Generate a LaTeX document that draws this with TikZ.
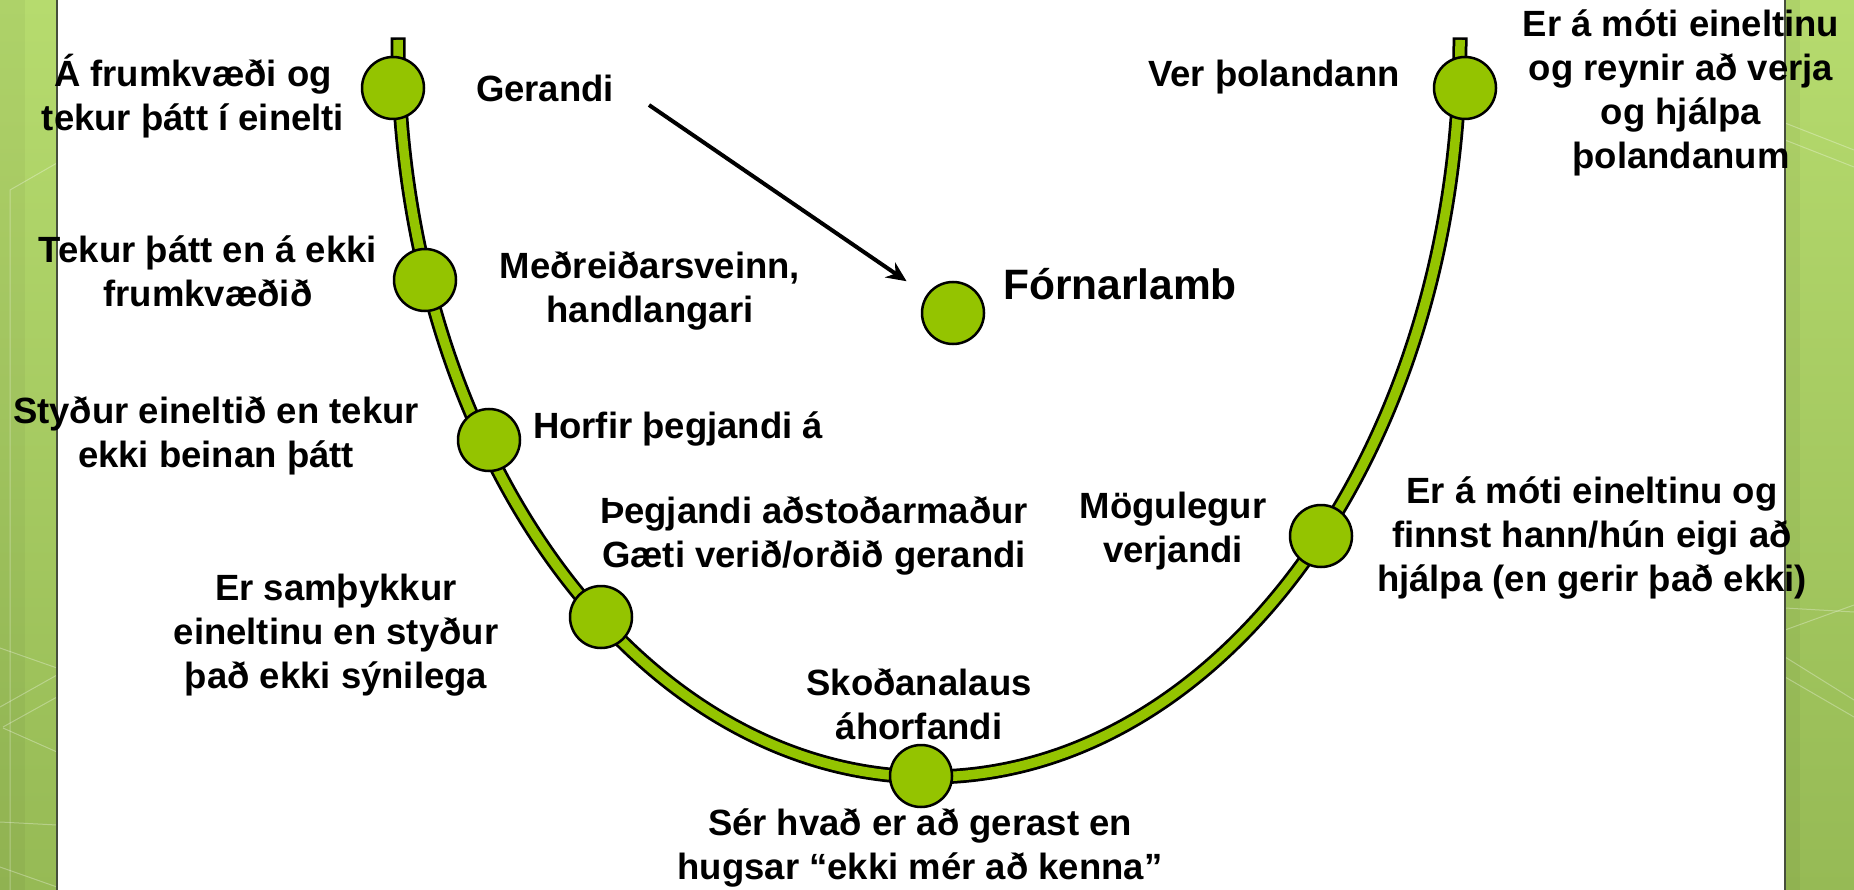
\documentclass[tikz,border=0pt]{standalone}
\usepackage{fontspec}
\setmainfont{Liberation Sans}
\usetikzlibrary{arrows.meta}
\definecolor{pgreen}{RGB}{148,196,0}
\definecolor{bartop}{RGB}{182,219,110}
\definecolor{barbot}{RGB}{150,186,85}
\definecolor{barline}{RGB}{70,78,60}
\begin{document}
\begin{tikzpicture}[x=1pt,y=-1pt,
  lbl/.style={font=\bfseries\fontsize{36.5}{44}\selectfont, align=center, anchor=base, inner sep=0pt},
  biglbl/.style={font=\bfseries\fontsize{42.5}{50}\selectfont, anchor=base, inner sep=0pt},
  dot/.style={circle, draw=black, line width=2.5pt, fill=pgreen, minimum size=62pt, inner sep=0pt},
  bar/.style={top color=bartop, bottom color=barbot},
  barstreak/.style={white, opacity=0.3, line width=1pt},
  curveout/.style={black, line width=15pt},
  curvein/.style={pgreen, line width=9.5pt},
  arr/.style={black, line width=4pt, -{Stealth[length=20pt,width=18pt]}, shorten >=24pt}
  ]
\useasboundingbox (0,0) rectangle (1854,890);
\fill[white] (0,0) rectangle (1854,890);
% side bars
\shade[bar] (0,0) rectangle (57,890);
\fill[black, opacity=0.04] (0,0) rectangle (25,890);
\shade[bar] (1785,0) rectangle (1854,890);
\fill[black, opacity=0.04] (1785,0) rectangle (1800,890);
\draw[barstreak] (10,890) -- (10,190) -- (57,163);
\draw[barstreak] (0,648) -- (57,668);
\draw[barstreak] (0,707) -- (57,675);
\draw[barstreak] (3,727) -- (57,697);
\draw[barstreak] (3,728) -- (57,752);
\draw[barstreak] (0,822) -- (57,825);
\draw[barstreak] (0,867) -- (57,887);
\draw[barstreak] (1785,630) -- (1854,605);
\draw[barstreak] (1785,608) -- (1854,612);
\draw[barstreak] (1785,657) -- (1854,700);
\draw[barstreak] (1785,677) -- (1854,717);
\draw[barstreak] (1785,123) -- (1854,150);
\draw[barstreak] (1785,140) -- (1854,167);
\draw[barline, line width=2pt] (57,0) -- (57,890);
\draw[barline, line width=2pt] (1785,0) -- (1785,890);
% the U curve
\draw[curveout] (398,37.5) -- (398,40) arc[start angle=180, end angle=360, x radius=531pt, y radius=737pt] -- (1460,37.5);
\draw[curvein] (398,40) arc[start angle=180, end angle=360, x radius=531pt, y radius=737pt];
% circles
\node[dot] (c1) at (393,88) {};
\node[dot] (c2) at (425,280) {};
\node[dot] (c3) at (489,440) {};
\node[dot] (c4) at (601,617) {};
\node[dot] (c5) at (921,776) {};
\node[dot] (c6) at (1321,536) {};
\node[dot] (c7) at (1465,88) {};
\node[dot] (vic) at (953,313) {};
% labels (base anchor = baseline of the last line)
\node[lbl] (t1) at (193,131) {Á frumkvæði og\\tekur þátt í einelti};
\node[lbl] (ger) at (545,102) {Gerandi};
\node[lbl] (t3) at (208,307) {Tekur þátt en á ekki\\frumkvæðið};
\node[lbl] (med) at (650,323) {Meðreiðarsveinn,\\handlangari};
\node[biglbl] (vicl) at (1120,300) {Fórnarlamb};
\node[lbl] (t5) at (216,467) {Styður eineltið en tekur\\ekki beinan þátt};
\node[lbl] (horf) at (678,438) {Horfir þegjandi á};
\node[lbl] (t7) at (336,688) {Er samþykkur\\eineltinu en styður\\það ekki sýnilega};
\node[lbl] (theg) at (814,567) {Þegjandi aðstoðarmaður\\Gæti verið/orðið gerandi};
\node[lbl] (mog) at (1173,562) {Mögulegur\\verjandi};
\node[lbl] (skod) at (919,739) {Skoðanalaus\\áhorfandi};
\node[lbl] (ser) at (920,879) {Sér hvað er að gerast en\\hugsar “ekki mér að kenna”};
\node[lbl] (rmid) at (1592,591) {Er á móti eineltinu og\\finnst hann/hún eigi að\\hjálpa (en gerir það ekki)};
\node[lbl] (ver) at (1274,87) {Ver þolandann};
\node[lbl] (rtop) at (1681,169) {Er á móti eineltinu\\og reynir að verja\\og hjálpa\\þolandanum};
% arrow
\coordinate (ga) at (649,105);
\draw[arr] (ga) -- (vic);
\end{tikzpicture}
\end{document}
